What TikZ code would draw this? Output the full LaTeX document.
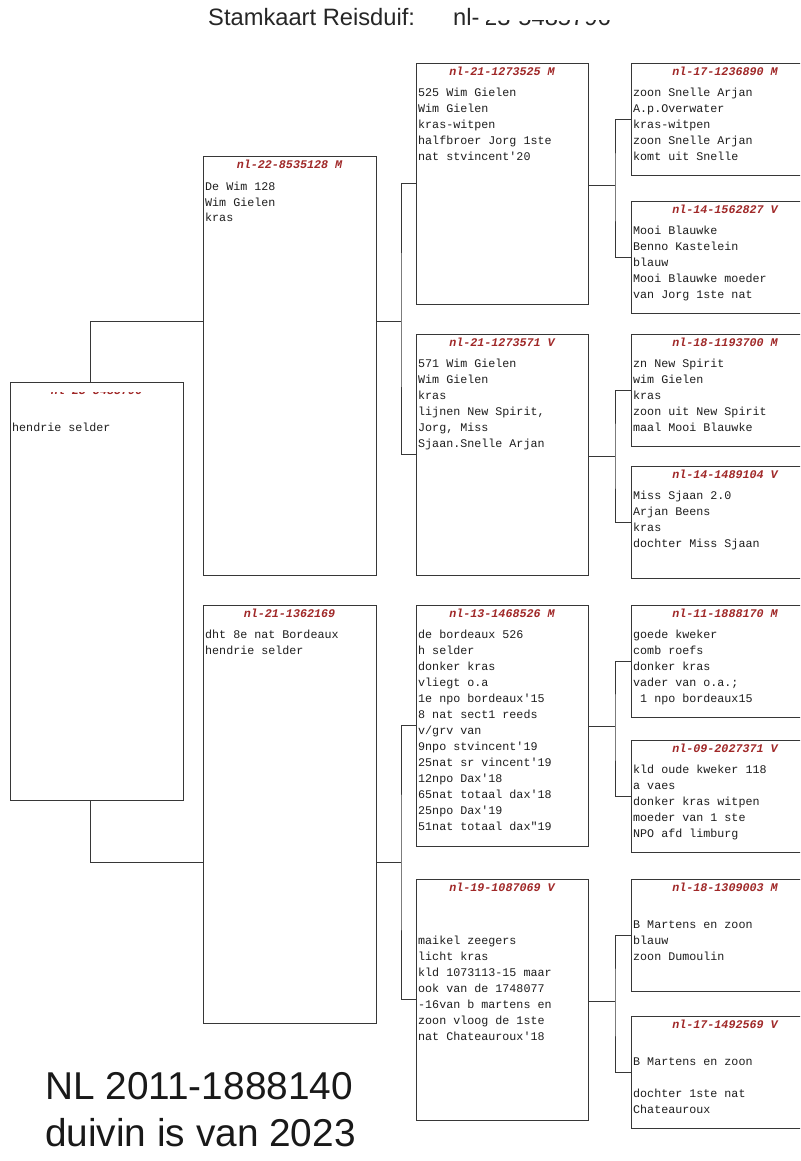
\documentclass[tikz,border=0pt]{standalone}
\usepackage{fontspec}
\setmainfont{Liberation Sans}
\setmonofont{Liberation Mono}
\usetikzlibrary{calc}
\definecolor{hdrred}{RGB}{160,40,40}
\definecolor{lncol}{RGB}{55,55,55}
\definecolor{txtcol}{RGB}{30,30,30}
\newcommand{\bodylines}[1]{\begin{tabular}[t]{@{}l@{}}#1\end{tabular}}
\newcommand{\pedbox}[7]{%
  \node[pbox, minimum width=#4pt, minimum height=#5pt] (#1) at (#2,#3) {};
  \node[hdtext] (#1-h) at ([yshift=-12pt]#1.north) {#6};
  \node[bdtext] (#1-b) at ([xshift=2pt,yshift=-33pt]#1.north west) {\bodylines{#7}};}
\begin{document}
\begin{tikzpicture}[x=1pt,y=-1pt,
  pbox/.style={draw=lncol, line width=1pt, rectangle, anchor=north west, inner sep=0pt, outer sep=0pt},
  hdtext/.style={font=\ttfamily\bfseries\itshape\fontsize{11.7}{16}\selectfont, text=hdrred, anchor=base, inner sep=0pt},
  bdtext/.style={font=\ttfamily\fontsize{11.7}{16}\selectfont, text=txtcol, anchor=base west, inner sep=0pt},
  conn/.style={draw=lncol, line width=1pt},
  bigtext/.style={font=\fontsize{38.8}{46}\selectfont, text=black!90, anchor=base west, inner sep=0pt},
  titletext/.style={font=\fontsize{23.7}{28}\selectfont, text=black!85, anchor=base west, inner sep=0pt}]
\useasboundingbox (0,0) rectangle (800,1161);
\fill[white] (0,0) rectangle (800,1161);
\clip (0,0) rectangle (800,1161);

% title
\node[titletext] (t1) at (208,26) {Stamkaart Reisduif:};
\node[titletext] (t2) at (453,26) {nl-};
\begin{scope}
  \clip (486,20.5) rectangle (640,32);
  \node[titletext] (t3) at (484,26) {23-5485796};
\end{scope}

% root
\node[pbox, minimum width=173pt, minimum height=418pt] (r) at (10,382) {};
\begin{scope}
  \clip (10,392) rectangle (183,398);
  \node[hdtext] (r-h) at ([yshift=-12pt]r.north) {nl-23-5485796};
\end{scope}
\node[bdtext] (r-b) at ([xshift=2pt,yshift=-33pt]r.north west) {\bodylines{\\hendrie selder}};

% generation 1
\pedbox{ga}{203}{157}{173}{418}{nl-22-8535128 M}{De Wim 128\\Wim Gielen\\kras}
\pedbox{gb}{203}{605}{173}{418}{nl-21-1362169}{dht 8e nat Bordeaux\\hendrie selder}

% generation 2
\pedbox{ha}{416}{64}{172}{240}{nl-21-1273525 M}{525 Wim Gielen\\Wim Gielen\\kras-witpen\\halfbroer Jorg 1ste\\nat stvincent'20}
\pedbox{hb}{416}{334}{172}{241}{nl-21-1273571 V}{571 Wim Gielen\\Wim Gielen\\kras\\lijnen New Spirit,\\Jorg, Miss\\Sjaan.Snelle Arjan}
\pedbox{hc}{416}{605}{172}{241}{nl-13-1468526 M}{de bordeaux 526\\h selder\\donker kras\\vliegt o.a\\1e npo bordeaux'15\\8 nat sect1 reeds\\v/grv van\\9npo stvincent'19\\25nat sr vincent'19\\12npo Dax'18\\65nat totaal dax'18\\25npo Dax'19\\51nat totaal dax"19}
\pedbox{hd}{416}{879}{172}{241}{nl-19-1087069 V}{\\ \\maikel zeegers\\licht kras\\kld 1073113-15 maar\\ook van de 1748077\\-16van b martens en\\zoon vloog de 1ste\\nat Chateauroux'18}

% generation 3
\pedbox{ia}{631}{64}{188}{112}{nl-17-1236890 M}{zoon Snelle Arjan\\A.p.Overwater\\kras-witpen\\zoon Snelle Arjan\\komt uit Snelle}
\pedbox{ib}{631}{201}{188}{112}{nl-14-1562827 V}{Mooi Blauwke\\Benno Kastelein\\blauw\\Mooi Blauwke moeder\\van Jorg 1ste nat}
\pedbox{ic}{631}{334}{188}{112}{nl-18-1193700 M}{zn New Spirit\\wim Gielen\\kras\\zoon uit New Spirit\\maal Mooi Blauwke}
\pedbox{id}{631}{466}{188}{112}{nl-14-1489104 V}{Miss Sjaan 2.0\\Arjan Beens\\kras\\dochter Miss Sjaan}
\pedbox{ie}{631}{605}{188}{112}{nl-11-1888170 M}{goede kweker\\comb roefs\\donker kras\\vader van o.a.;\\\ 1 npo bordeaux15}
\pedbox{if}{631}{740}{188}{112}{nl-09-2027371 V}{kld oude kweker 118\\a vaes\\donker kras witpen\\moeder van 1 ste\\NPO afd limburg}
\pedbox{ig}{631}{879}{188}{112}{nl-18-1309003 M}{\\B Martens en zoon\\blauw\\zoon Dumoulin}
\pedbox{ih}{631}{1016}{188}{112}{nl-17-1492569 V}{\\B Martens en zoon\\ \\dochter 1ste nat\\Chateauroux}

% junctions
\coordinate (ja) at (90,321);
\coordinate (ka) at (401,321);
\coordinate (jb) at (90,862.5);
\coordinate (kb) at (401,862.5);
\coordinate (m1) at (615,186);
\coordinate (m2) at (615,456);
\coordinate (m3) at (615,726);
\coordinate (m4) at (615,1001);

% connectors
\draw[conn] (r.north -| ja) -- (ja) -- (ja -| ga.west);
\draw[conn] (r.south -| jb) -- (jb) -- (jb -| gb.west);
\draw[conn] (ga.east |- ka) -- (ka);
\draw[conn] (ha.west) -| (ka) |- (hb.west);
\draw[conn] (gb.east |- kb) -- (kb);
\draw[conn] (hc.west) -| (kb) |- (hd.west);
\draw[conn] (ha.east |- m1) -- (m1);
\draw[conn] (ia.west) -| (m1) |- (ib.west);
\draw[conn] (hb.east |- m2) -- (m2);
\draw[conn] (ic.west) -| (m2) |- (id.west);
\draw[conn] (hc.east |- m3) -- (m3);
\draw[conn] (ie.west) -| (m3) |- (if.west);
\draw[conn] (hd.east |- m4) -- (m4);
\draw[conn] (ig.west) -| (m4) |- (ih.west);

% bottom text
\node[bigtext] (b1) at (45,1099) {NL 2011-1888140};
\node[bigtext] (b2) at (45,1146) {duivin is van 2023};
\end{tikzpicture}
\end{document}
